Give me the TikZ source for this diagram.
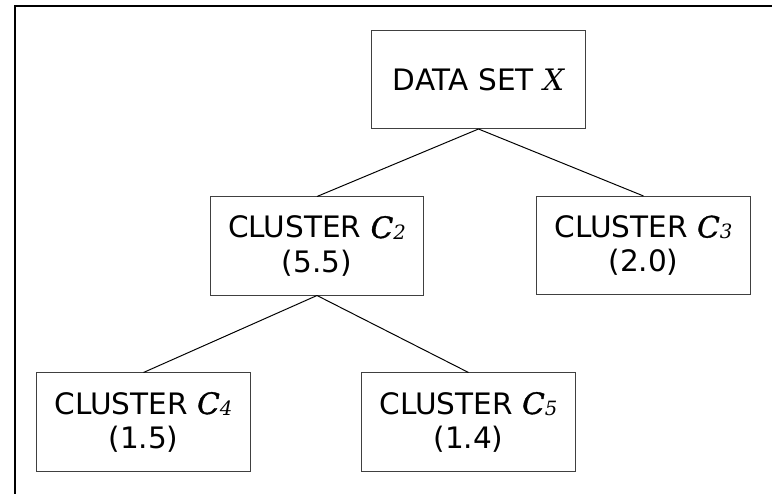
\documentclass[tikz,border=0pt]{standalone}
\usepackage{fontspec}
\setmainfont{DejaVu Sans}
\newfontfamily\serifvar{DejaVu Serif}
\newfontfamily\serifsemi[FakeBold=1.2]{DejaVu Serif}

\newcommand{\clusterlabel}[2]{CLUSTER {\serifsemi\itshape C}{\serifvar\itshape\fontsize{14}{14}\selectfont\raisebox{-1pt}{#1}}\\(#2)}

\tikzset{
  clusterbox/.style={draw=black!75, line width=0.7pt, minimum width=5.33cm,
    minimum height=2.45cm, align=center, inner sep=0pt},
  treeedge/.style={black, line width=0.7pt}
}

\begin{document}
\begin{tikzpicture}[x=0.025cm, y=-0.025cm,
  font=\fontsize{21}{24.2}\selectfont]
\useasboundingbox (0,0) rectangle (772,494);
%% frame
\draw[black, line width=1.4pt] (15,494) -- (15,6) -- (772,6);
%% nodes
\node[clusterbox] (data) at (478.5,79.5) {DATA SET {\serifvar\itshape X}};
\node[clusterbox] (c2) at (317,246) {\clusterlabel{2}{5.5}};
\node[clusterbox] (c3) at (643.5,245.5) {\clusterlabel{3}{2.0}};
\node[clusterbox] (c4) at (143.5,422) {\clusterlabel{4}{1.5}};
\node[clusterbox] (c5) at (468.5,422) {\clusterlabel{5}{1.4}};
%% edges
\draw[treeedge] (data.south) -- (c2.north);
\draw[treeedge] (data.south) -- (c3.north);
\draw[treeedge] (c2.south) -- (c4.north);
\draw[treeedge] (c2.south) -- (c5.north);
\end{tikzpicture}
\end{document}
